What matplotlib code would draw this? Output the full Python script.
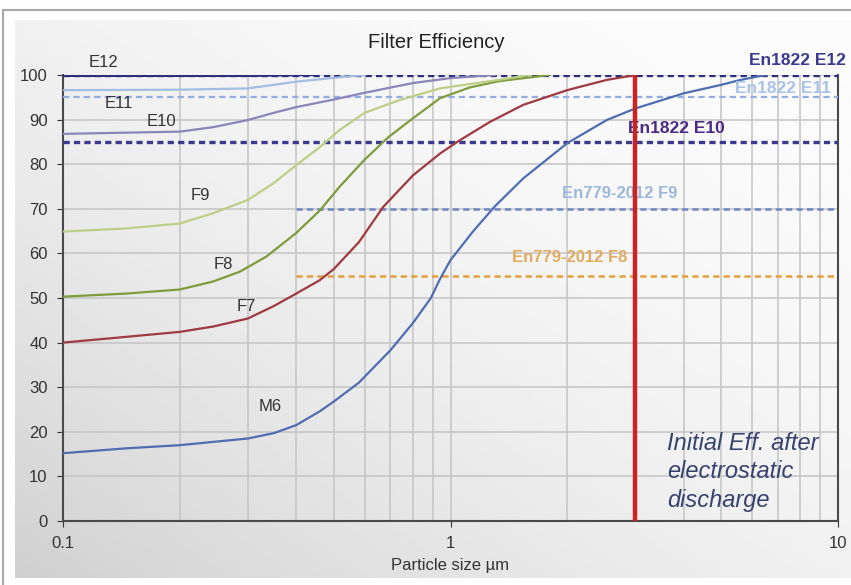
import matplotlib
matplotlib.use('Agg')
import matplotlib.pyplot as plt
import numpy as np
from matplotlib.lines import Line2D

plt.rcParams['font.family'] = ['Liberation Sans', 'DejaVu Sans']
plt.rcParams['lines.scale_dashes'] = False

# efficiency curves: particle size (um) vs efficiency (%)
m6_x = [0.1, 0.146, 0.2, 0.3, 0.35, 0.4, 0.46, 0.5, 0.58, 0.7, 0.8, 0.89, 0.94, 1.0,
        1.145, 1.3, 1.54, 2.0, 2.53, 3.0, 4.0, 5.0, 5.6, 6.5]
m6_y = [15.2, 16.3, 17.0, 18.5, 19.7, 21.5, 24.6, 26.8, 31, 38.3, 44.4, 50, 54.3, 58.5,
        65, 70.5, 76.8, 84.7, 89.9, 92.5, 95.9, 97.8, 98.9, 100]

f7_x = [0.1, 0.146, 0.2, 0.244, 0.3, 0.35, 0.4, 0.46, 0.5, 0.58, 0.67, 0.8, 0.94, 1.058,
        1.265, 1.54, 2.0, 2.53, 3.0]
f7_y = [40.0, 41.3, 42.4, 43.6, 45.4, 48.2, 51.0, 54.0, 56.5, 62.5, 70.4, 77.5, 82.4, 85.4,
        89.5, 93.3, 96.6, 98.9, 100]

f8_x = [0.1, 0.146, 0.2, 0.244, 0.286, 0.335, 0.4, 0.461, 0.518, 0.6, 0.69, 0.8, 0.94,
        1.12, 1.33, 1.8]
f8_y = [50.3, 51.0, 51.9, 53.7, 55.9, 59.3, 64.6, 69.7, 75.0, 81, 86, 90.3, 94.8,
        97.2, 98.6, 100]

f9_x = [0.1, 0.146, 0.2, 0.244, 0.3, 0.349, 0.4, 0.461, 0.518, 0.6, 0.74, 0.94, 1.33, 1.6]
f9_y = [64.9, 65.6, 66.7, 69.0, 72.0, 75.7, 79.8, 83.9, 87.7, 91.5, 94.4, 97.0, 98.9, 100]

e10_x = [0.1, 0.2, 0.244, 0.3, 0.349, 0.4, 0.5, 0.6, 0.8, 1.0, 1.3]
e10_y = [86.8, 87.3, 88.3, 89.9, 91.5, 92.8, 94.5, 96, 98.2, 99.3, 100]

e11_x = [0.1, 0.2, 0.3, 0.4, 0.518, 0.6]
e11_y = [96.6, 96.7, 97.0, 98.5, 99.5, 100]

e12_x = [0.1, 0.3, 0.45]
e12_y = [99.8, 99.8, 100]

# standard class limits
std_levels = [100, 95, 85, 70, 55]
std_start = [0.1, 0.1, 0.1, 0.4, 0.4]
std_labels = ['En1822 E12', 'En1822 E11', 'En1822 E10', 'En779-2012 F9', 'En779-2012 F8']

discharge_x = 3

fig = plt.figure(figsize=(8.51, 5.85), dpi=100, facecolor='white')

# light grey gradient backdrop with a thin frame
bg = fig.add_axes([15 / 851, 7 / 585, 836 / 851, 558 / 585])
gx, gy = np.meshgrid(np.linspace(0, 1, 200), np.linspace(1, 0, 200))
t = (gx + gy) / 2
bg.imshow(0.985 - 0.17 * (1 - t) ** 2, cmap='gray', vmin=0, vmax=1,
          aspect='auto', extent=[0, 1, 0, 1])
bg.set_axis_off()
fig.add_artist(Line2D([3 / 851, 1], [1 - 10 / 585] * 2, color='#a8a8a8', lw=1.5))
fig.add_artist(Line2D([3 / 851] * 2, [0, 1 - 10 / 585], color='#a8a8a8', lw=1.5))

ax = fig.add_axes([63 / 851, 64 / 585, 775 / 851, 446 / 585])
ax.set_facecolor('none')
ax.set_xscale('log')
ax.set_xlim(0.1, 10)
ax.set_ylim(0, 100)

ax.set_xticks([0.1, 1, 10], ['0.1', '1', '10'])
ax.set_yticks(range(0, 101, 10))
ax.tick_params(axis='both', which='major', labelsize=12, colors='#333333', length=4, pad=7)
ax.tick_params(axis='x', which='minor', length=0)
ax.grid(True, which='both', color='#c4c4c4', lw=1.1)
ax.set_axisbelow(True)
for s in ['left', 'bottom', 'right']:
    ax.spines[s].set_color('#4a4a4a')
    ax.spines[s].set_linewidth(1.5)
ax.spines['top'].set_visible(False)

# dashed class limits
std_colors = ['#2b2e80', '#93ace2', '#3c3a8c', '#6f88c2', '#e3a03c']
std_widths = [2.4, 1.6, 2.4, 1.8, 1.8]
for lvl, x0, c, w in zip(std_levels, std_start, std_colors, std_widths):
    ax.plot([x0, 10], [lvl, lvl], color=c, lw=w, dashes=(4.5, 3), zorder=3)

# efficiency curves
curves = [
    (m6_x, m6_y, '#4f6db0'),
    (f7_x, f7_y, '#9e3a40'),
    (f8_x, f8_y, '#7f9c3c'),
    (f9_x, f9_y, '#bccf86'),
    (e10_x, e10_y, '#8a86b8'),
    (e11_x, e11_y, '#a2bee2'),
    (e12_x, e12_y, '#2b2e7a'),
]
for xs, ys, c in curves:
    ax.plot(xs, ys, color=c, lw=1.6, zorder=4, solid_joinstyle='round')

# curve names
for txt, x, y in [('E12', 0.127, 102.9), ('E11', 0.139, 93.7), ('E10', 0.179, 89.5),
                  ('F9', 0.226, 72.9), ('F8', 0.26, 57.4), ('F7', 0.297, 48.0),
                  ('M6', 0.342, 25.6)]:
    ax.text(x, y, txt, fontsize=12, color='#333333', ha='center', va='center',
            clip_on=False, zorder=5)

# standard names
ax.text(10.5, 103.2, std_labels[0], fontsize=12.5, fontweight='bold', color='#3a3a92',
        ha='right', va='center', clip_on=False, zorder=5)
ax.text(9.6, 97.0, std_labels[1], fontsize=12.5, fontweight='bold', color='#a8c2ea',
        ha='right', va='center', zorder=5)
ax.text(3.82, 88.1, std_labels[2], fontsize=12.5, fontweight='bold', color='#4a2a84',
        ha='center', va='center', zorder=5)
ax.text(2.74, 73.5, std_labels[3], fontsize=12, fontweight='bold', color='#9cb8d8',
        ha='center', va='center', zorder=5)
ax.text(2.03, 59.0, std_labels[4], fontsize=12, fontweight='bold', color='#e2ab62',
        ha='center', va='center', zorder=5)

ax.axvline(discharge_x, ymin=0, ymax=1, color='#cc2222', lw=3.2, zorder=6)

ax.text(3.62, 20.0, 'Initial Eff. after\nelectrostatic\ndischarge', fontsize=17,
        style='italic', color='#36426e', ha='left', va='top', linespacing=1.3, zorder=5)

fig.text(436 / 851, 1 - 42 / 585, 'Filter Efficiency', fontsize=14.5, color='#222222',
         ha='center', va='center')
ax.set_xlabel('Particle size µm', fontsize=12, color='#333333', labelpad=5)

fig.savefig('out.png', dpi=100)
